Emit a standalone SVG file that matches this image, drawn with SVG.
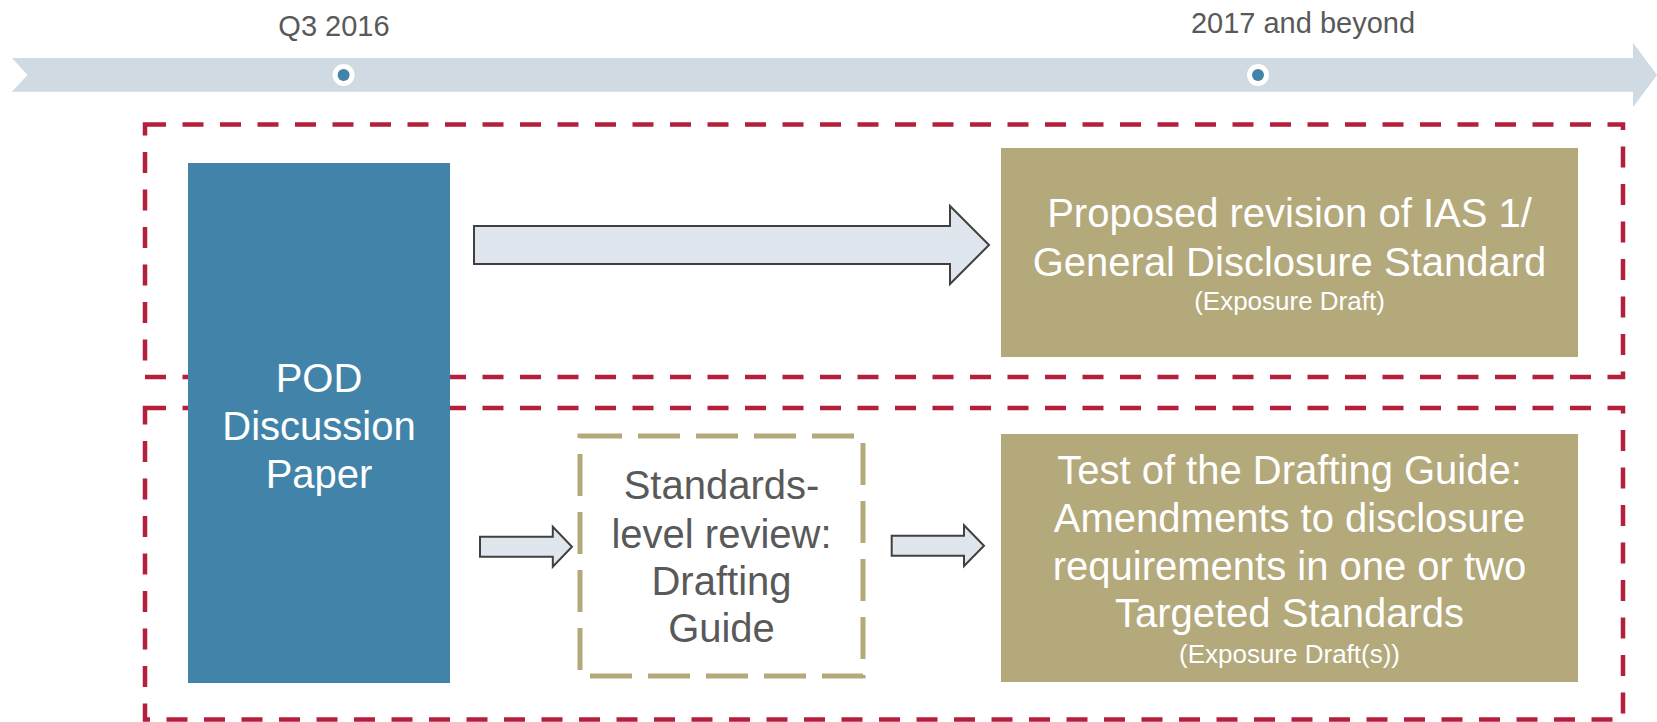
<svg xmlns="http://www.w3.org/2000/svg" width="1657" height="722" viewBox="0 0 1657 722">
<style>
.t{font-family:"Liberation Sans",Arial,sans-serif;text-anchor:middle}
.gray{fill:#595959}
.wh{fill:#ffffff}
.red{fill:none;stroke:#B41F3C;stroke-width:4.5;stroke-dasharray:21 16.5}
.arr{fill:#DFE6ED;stroke:#404040;stroke-width:2;stroke-linejoin:miter}
.gold{fill:#B3A97B}
</style>
<rect width="1657" height="722" fill="#ffffff"/>
<g id="timeline">
<polygon points="12,58 1633,58 1633,42.7 1657,75 1633,107.3 1633,91.7 12,91.7 27.5,75" fill="#CFDAE2"/>
<circle cx="343.6" cy="75" r="11" fill="#ffffff"/>
<circle cx="343.6" cy="75" r="6" fill="#4284A9"/>
<circle cx="1258" cy="75" r="11" fill="#ffffff"/>
<circle cx="1258" cy="75" r="6" fill="#4284A9"/>
<text class="t gray" x="334" y="36" font-size="29">Q3 2016</text>
<text class="t gray" x="1303" y="32.5" font-size="29">2017 and beyond</text>
</g>
<g id="groups">
<rect class="red" x="145" y="124.5" width="1478" height="252.5"/>
<rect class="red" x="145" y="408" width="1478" height="311.5"/>
</g>
<g id="pod">
<rect x="188" y="163" width="262" height="520" fill="#4284A9"/>
<text class="t wh" font-size="40"><tspan x="319" y="392">POD</tspan><tspan x="319" y="440">Discussion</tspan><tspan x="319" y="488">Paper</tspan></text>
</g>
<g id="connectors">
<polygon class="arr" points="474,226 950,226 950,206 989,245 950,284 950,264 474,264"/>
<polygon class="arr" points="480,536.7 552.8,536.7 552.8,526.7 572,546.7 552.8,566.7 552.8,556.7 480,556.7"/>
<polygon class="arr" points="891.7,535.7 964,535.7 964,525.3 984,545.7 964,566 964,555.7 891.7,555.7"/>
</g>
<g id="ias1">
<rect class="gold" x="1001" y="148" width="577" height="209"/>
<text class="t wh" font-size="40"><tspan x="1289.5" y="227">Proposed revision of IAS 1/</tspan><tspan x="1289.5" y="276">General Disclosure Standard</tspan></text>
<text class="t wh" x="1289.5" y="310" font-size="26">(Exposure Draft)</text>
</g>
<g id="standards-review">
<rect x="580" y="436" width="283" height="240" fill="none" stroke="#B3A97B" stroke-width="5" stroke-dasharray="42 16"/>
<text class="t gray" font-size="40"><tspan x="721.5" y="499">Standards-</tspan><tspan x="721.5" y="548">level review:</tspan><tspan x="721.5" y="595">Drafting</tspan><tspan x="721.5" y="642">Guide</tspan></text>
</g>
<g id="test">
<rect class="gold" x="1001" y="434" width="577" height="248"/>
<text class="t wh" font-size="40"><tspan x="1289.5" y="484">Test of the Drafting Guide:</tspan><tspan x="1289.5" y="532">Amendments to disclosure</tspan><tspan x="1289.5" y="580">requirements in one or two</tspan><tspan x="1289.5" y="627">Targeted Standards</tspan></text>
<text class="t wh" x="1289.5" y="663" font-size="26">(Exposure Draft(s))</text>
</g>
</svg>
